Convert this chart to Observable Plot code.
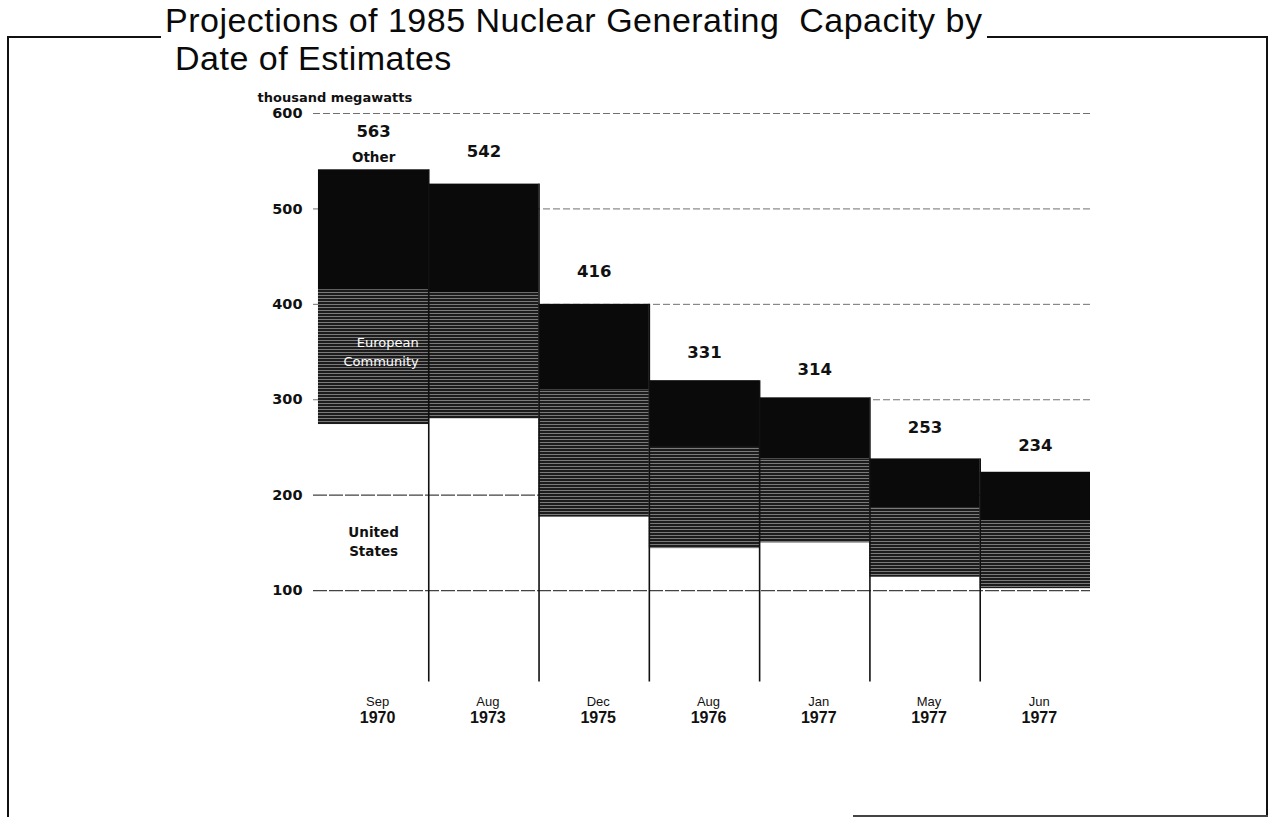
<!DOCTYPE html>
<html>
<head>
<meta charset="utf-8">
<script src="https://cdn.jsdelivr.net/npm/d3@7"></script>
<script src="https://cdn.jsdelivr.net/npm/@observablehq/plot@0.6"></script>
<style>
  html, body { margin: 0; padding: 0; background: #fff; }
  body { width: 1274px; height: 825px; overflow: hidden; position: relative; font-family: "Liberation Sans", Arial, sans-serif; }
  .fr { position: absolute; background: #111; }
  #chart { position: absolute; left: 0; top: 0; }
  #chart svg { max-width: none; background: transparent; }
  .tl { position: absolute; font-size: 34px; line-height: 40px; letter-spacing: 0.5px; color: #0a0a0a; white-space: nowrap; }
  #t1 { left: 161px; top: 0px; background: #fff; padding: 0 5px 0 4px; }
  #t2 { left: 175px; top: 38px; }
</style>
</head>
<body>
<svg width="0" height="0" style="position:absolute">
  <defs>
    <pattern id="ecTex" width="5" height="3" patternUnits="userSpaceOnUse">
      <rect width="5" height="3" fill="#1c1c1c"></rect>
      <rect y="1" width="5" height="1" fill="#7a7a7a"></rect>
    </pattern>
  </defs>
</svg>
<div class="fr" style="left:7px;top:36px;width:2px;height:781px"></div>
<div class="fr" style="left:1266px;top:36px;width:2px;height:781px"></div>
<div class="fr" style="left:7px;top:36px;width:1261px;height:1.5px"></div>
<div class="fr" style="left:853px;top:815px;width:415px;height:1.5px;background:#444"></div>
<div id="chart"></div>
<div class="tl" id="t1">Projections of 1985 Nuclear Generating&nbsp; Capacity by</div>
<div class="tl" id="t2">Date of Estimates</div>
<script>
// ---- data ----
const months = ["Sep", "Aug", "Dec", "Aug", "Jan", "May", "Jun"];
const years = ["1970", "1973", "1975", "1976", "1977", "1977", "1977"];
const totalLabels = [563, 542, 416, 331, 314, 253, 234];
const unitedStates = [274, 280, 177, 144, 150, 114, 102];
const europeanCommunity = [141, 132, 133, 106, 88, 73, 71];
const other = [126, 114, 90, 70, 64, 51, 51];
const yTicks = [100, 200, 300, 400, 500, 600];
const seriesNames = ["United States", "European Community", "Other"];

// ---- build stacked rows ----
const seriesValues = [unitedStates, europeanCommunity, other];
const rows = [];
months.forEach((m, i) => {
  let base = 0;
  seriesValues.forEach((vals, s) => {
    rows.push({i, series: seriesNames[s], x1: i, x2: i + 1, y1: base, y2: base + vals[i]});
    base += vals[i];
  });
});
const stackTop = months.map((m, i) => unitedStates[i] + europeanCommunity[i] + other[i]);
const bars = months.map((m, i) => ({i, month: m, year: years[i], label: totalLabels[i], top: stackTop[i], us: unitedStates[i], ecMid: unitedStates[i] + europeanCommunity[i] / 2}));
const separators = d3.range(1, months.length).map(i => ({x: i, top: Math.max(stackTop[i - 1], stackTop[i])}));

const bold = "DejaVu Sans";
const plot = Plot.plot({
  width: 1274,
  height: 825,
  marginLeft: 313,
  marginRight: 184,
  marginTop: 113,
  marginBottom: 139.5,
  style: {background: "transparent", overflow: "visible"},
  x: {domain: [-0.045, 7], axis: null},
  y: {domain: [0, 600], axis: null},
  marks: [
    Plot.ruleY(yTicks.filter(v => v > 200), {stroke: "#333", strokeWidth: 1, strokeOpacity: 0.7, strokeDasharray: "7,3"}),
    Plot.ruleY(yTicks.filter(v => v <= 200), {stroke: "#222", strokeWidth: 1.2, strokeOpacity: 0.85, strokeDasharray: "14,2"}),
    Plot.rect(rows.filter(d => d.series === "United States"), {x1: "x1", x2: "x2", y1: "y1", y2: "y2", fill: "none"}),
    Plot.rect(rows.filter(d => d.series === "European Community"), {x1: "x1", x2: "x2", y1: "y1", y2: "y2", fill: "url(#ecTex)"}),
    Plot.rect(rows.filter(d => d.series === "Other"), {x1: "x1", x2: "x2", y1: "y1", y2: "y2", fill: "#0a0a0a"}),
    Plot.ruleX(separators, {x: "x", y1: 0, y2: "top", stroke: "#111", strokeWidth: 1.6, insetTop: -4}),
    Plot.axisY({ticks: yTicks, tickSize: 0, tickPadding: 11, label: null, fontFamily: bold, fontSize: 14.5, fontWeight: "bold", fill: "#111"}),
    Plot.text(["thousand megawatts"], {frameAnchor: "top-left", dx: -56, dy: -21, textAnchor: "start", fontFamily: bold, fontSize: 13, fontWeight: "bold", fill: "#111"}),
    Plot.text(bars, {x: d => d.i + 0.5, y: "label", text: d => String(d.label), dy: -17, fontFamily: bold, fontSize: 16.5, fontWeight: "bold", fill: "#111"}),
    Plot.text(bars.slice(0, 1), {x: d => d.i + 0.5, y: "top", text: () => "Other", dy: -12, fontFamily: bold, fontSize: 13.5, fontWeight: "bold", fill: "#111"}),
    Plot.text(bars.slice(0, 1), {x: d => d.i + 0.5, y: d => d.us / 2, text: () => "United\nStates", dy: -15, lineHeight: 1.4, fontFamily: bold, fontSize: 13.5, fontWeight: "bold", fill: "#111"}),
    Plot.text(bars.slice(0, 1), {x: d => d.i + 1, y: "ecMid", text: () => "European\nCommunity", dx: -10, dy: -7, textAnchor: "end", lineHeight: 1.45, fontFamily: "DejaVu Sans", fontSize: 13, fill: "#fff"}),
    Plot.text(bars, {x: d => d.i + 0.5, y: 0, text: "month", dy: 16, dx: 4, fontFamily: "Liberation Sans", fontSize: 13, fill: "#111"}),
    Plot.text(bars, {x: d => d.i + 0.5, y: 0, text: "year", dy: 32, dx: 4, fontFamily: "Liberation Sans", fontSize: 16, fontWeight: "bold", fill: "#111"})
  ]
});
document.getElementById("chart").appendChild(plot);
</script>
</body>
</html>
